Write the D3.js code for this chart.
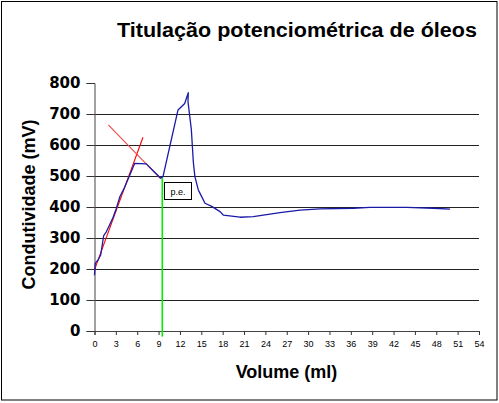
<!DOCTYPE html>
<html>
<head>
<meta charset="utf-8">
<script src="https://cdn.jsdelivr.net/npm/d3@7"></script>
<style>
  html, body { margin: 0; padding: 0; background: #fff; }
  svg { display: block; }
</style>
</head>
<body>
<svg id="chart" width="499" height="403"></svg>
<script>
// ---- data ----
const titleText = "Titulação potenciométrica de óleos";
const xTitle = "Volume (ml)";
const yTitle = "Condutividade (mV)";
const xTicks = [0,3,6,9,12,15,18,21,24,27,30,33,36,39,42,45,48,51,54];
const yTicks = [0,100,200,300,400,500,600,700,800];

const volume = [0, 0.1, 0.5, 0.87, 1.29, 1.66, 2.13, 2.6, 3.06, 3.54, 4.2, 4.9, 5.65, 7.28, 9.3, 9.62, 10.56, 11.73, 12.67, 13.17, 13.13, 13.6, 13.88, 14.1, 14.58, 14.82, 15.52, 16.46, 17.63, 18.09, 20.44, 22.3, 26.05, 28.86, 31.67, 36.35, 38.69, 43.85, 47.58, 49.93];
const conductivity = [180, 218, 229, 245, 308, 320, 343, 366, 395, 432, 462, 500, 541, 539, 493, 498, 594, 713, 734, 769, 740, 650, 545, 498, 455, 444, 412, 402, 385, 374, 367, 369, 382, 390, 394, 396, 399, 399, 396, 393];

const tangentRiseX = [0, 6.81];
const tangentRiseY = [197, 625];
const tangentFallX = [1.94, 9.3];
const tangentFallY = [665, 491];
const endPointX = [9.52, 9.52];
const endPointY = [493, -18];
const endPointLabel = "p.e.";

// ---- drawing ----
const svg = d3.select("#chart");
const x = d3.scaleLinear().domain([0, 54]).range([94.5, 479]);
const y = d3.scaleLinear().domain([0, 800]).range([331, 83]);

// outer frame
svg.append("rect").attr("x", 1.5).attr("y", 1.5).attr("width", 495.5).attr("height", 398.5)
  .attr("fill", "none").attr("stroke", "#000").attr("stroke-width", 1);

// title
svg.append("text").attr("x", 117).attr("y", 36.7)
  .attr("font-family", "Liberation Sans, Arial, sans-serif").attr("font-weight", "bold")
  .attr("font-size", 20).attr("textLength", 360).attr("lengthAdjust", "spacingAndGlyphs")
  .text(titleText);

// gridlines (100..700)
svg.append("g").selectAll("line").data(yTicks.filter(d => d > 0 && d < 800)).join("line")
  .attr("x1", x(0)).attr("x2", x(54))
  .attr("y1", d => Math.round(y(d)) + 0.5).attr("y2", d => Math.round(y(d)) + 0.5)
  .attr("stroke", "#222").attr("stroke-width", 1);

// y axis
const yAxis = d3.axisLeft(y).tickValues(yTicks).tickSize(8).tickPadding(6);
const gy = svg.append("g").attr("transform", `translate(${x(0)},0)`).call(yAxis);
gy.select(".domain").attr("stroke", "#444");
gy.selectAll(".tick line").attr("stroke", "#333");
gy.selectAll(".tick text").attr("font-family", "DejaVu Sans, sans-serif")
  .attr("font-weight", "bold").attr("font-size", 15).attr("fill", "#000");

// x axis
const xAxis = d3.axisBottom(x).tickValues(xTicks).tickSize(4).tickPadding(6);
const gx = svg.append("g").attr("transform", `translate(0,${y(0)})`).call(xAxis);
gx.select(".domain").attr("stroke", "#444");
gx.selectAll(".tick line").attr("stroke", "#333");
gx.selectAll(".tick text").attr("font-family", "Liberation Sans, Arial, sans-serif")
  .attr("font-size", 9).attr("fill", "#000");

// axis titles
svg.append("text").attr("x", 286.5).attr("y", 378).attr("text-anchor", "middle")
  .attr("font-family", "Liberation Sans, Arial, sans-serif").attr("font-weight", "bold")
  .attr("font-size", 18).text(xTitle);
svg.append("text").attr("transform", "translate(35,204.5) rotate(-90)").attr("text-anchor", "middle")
  .attr("font-family", "Liberation Sans, Arial, sans-serif").attr("font-weight", "bold")
  .attr("font-size", 18).text(yTitle);

const line = d3.line().x(d => x(d[0])).y(d => y(d[1]));

// green end point line
svg.append("path").datum(d3.zip(endPointX, endPointY)).attr("d", line)
  .attr("stroke", "#00ee00").attr("stroke-width", 1.6).attr("fill", "none");

// tangents
svg.append("path").datum(d3.zip(tangentRiseX, tangentRiseY)).attr("d", line)
  .attr("stroke", "#ff0000").attr("stroke-width", 1.1).attr("fill", "none");
svg.append("path").datum(d3.zip(tangentFallX, tangentFallY)).attr("d", line)
  .attr("stroke", "#f04848").attr("stroke-width", 1.1).attr("fill", "none");

// titration curve
svg.append("path").datum(d3.zip(volume, conductivity)).attr("d", line)
  .attr("stroke", "#1a1aa8").attr("stroke-width", 1.3).attr("fill", "none")
  .attr("stroke-linejoin", "round");

// p.e. label box
const bx = x(endPointX[0]) + 1.5, by = y(endPointY[0]) + 3.5;
const box = svg.append("g").attr("transform", `translate(${Math.round(bx) + 0.5},${Math.round(by) + 0.5})`);
box.append("rect").attr("width", 27).attr("height", 17).attr("fill", "#fff")
  .attr("stroke", "#000").attr("stroke-width", 1);
box.append("text").attr("x", 13.5).attr("y", 12).attr("text-anchor", "middle")
  .attr("font-family", "Liberation Sans, Arial, sans-serif").attr("font-size", 9)
  .text(endPointLabel);
</script>
</body>
</html>
